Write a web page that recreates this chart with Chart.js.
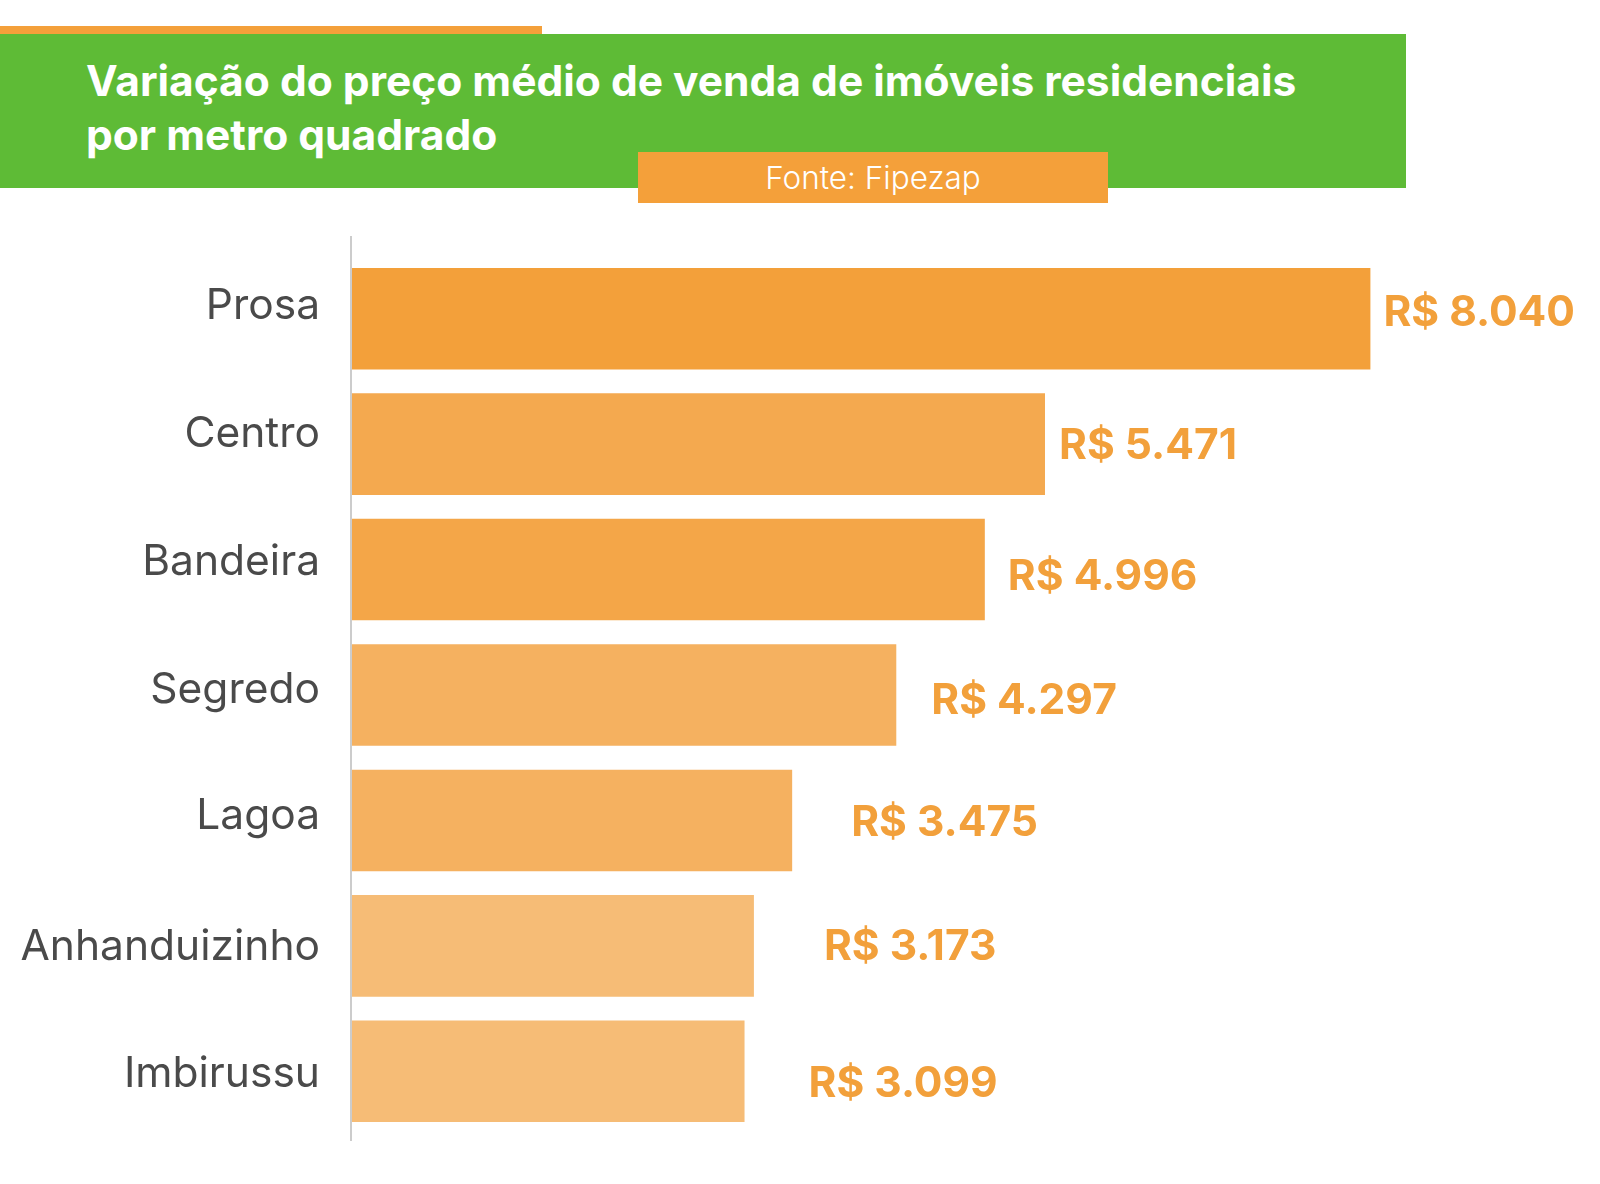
<!DOCTYPE html>
<html>
<head>
<meta charset="utf-8">
<script src="https://cdn.jsdelivr.net/npm/chart.js@4"></script>
<style>
  body { margin: 0; width: 1600px; height: 1184px; background: #fff; position: relative; overflow: hidden; font-family: Inter, sans-serif; }
  .strip { position: absolute; left: 0; top: 26px; width: 542px; height: 8px; background: #F4A03A; }
  .band { position: absolute; left: 0; top: 34px; width: 1406px; height: 154px; background: #5EBB36; }
  .title { position: absolute; left: 86px; top: 54px; color: #fff; font-weight: 700; font-size: 42.5px; line-height: 54px; }
  .fonte { position: absolute; left: 638px; top: 152px; width: 470px; height: 51px; background: #F4A03A; color: #fff; font-weight: 300; font-size: 31.5px; line-height: 51px; text-align: center; }
  #wrap { position: absolute; left: 0; top: 0; width: 1600px; height: 1184px; }
</style>
</head>
<body>
<div class="strip"></div>
<div class="band"></div>
<div class="title">Variação do preço médio de venda de imóveis residenciais<br>por metro quadrado</div>
<div class="fonte">Fonte: Fipezap</div>
<div id="wrap"><canvas id="chart-precos" width="1600" height="1184"></canvas></div>

<script>
// bairros e preço médio (R$/m²)
const bairros = ['Prosa', 'Centro', 'Bandeira', 'Segredo', 'Lagoa', 'Anhanduizinho', 'Imbirussu'];
const precos = [8040, 5471, 4996, 4297, 3475, 3173, 3099];
const cores = ['#F3A03A', '#F4A94F', '#F4A648', '#F5B160', '#F5B160', '#F6BC76', '#F6BC76'];

function formatReal(v) {
  return 'R$ ' + String(v).replace(/\B(?=(\d{3})+(?!\d))/g, '.');
}

// nomes dos bairros à esquerda e valores à direita das barras
var barLabels = {
  id: 'barLabels',
  afterDatasetsDraw: function(chart, args, opts) {
    var ctx = chart.ctx;
    var area = chart.chartArea;
    var bars = chart.getDatasetMeta(0).data;
    var names = chart.data.labels;
    ctx.save();
    ctx.textBaseline = 'middle';
    bars.forEach(function(bar, i) {
      ctx.font = '42.5px Inter';
      ctx.fillStyle = '#4a4a4a';
      ctx.textAlign = 'right';
      ctx.fillText(names[i], area.left - 32, bar.y + opts.nameShift[i]);

      ctx.font = 'bold 42.5px Inter';
      ctx.fillStyle = '#F2A03B';
      ctx.textAlign = 'left';
      ctx.fillText(formatReal(precos[i]), bar.x + opts.gap[i], bar.y + opts.shift[i]);
    });
    ctx.restore();
  }
};

var axisLine = {
  id: 'axisLine',
  beforeDatasetsDraw: function(chart) {
    var ctx = chart.ctx, area = chart.chartArea;
    ctx.save();
    ctx.strokeStyle = '#cccccc';
    ctx.lineWidth = 2;
    ctx.beginPath();
    ctx.moveTo(area.left - 1, area.top - 20);
    ctx.lineTo(area.left - 1, area.bottom + 7);
    ctx.stroke();
    ctx.restore();
  }
};

var ctp = document.getElementById('chart-precos');
var chartPrecos = new Chart(ctp, {
  type: 'bar',
  data: {
    labels: bairros,
    datasets: [{
      data: precos,
      backgroundColor: cores,
      borderWidth: 0,
      categoryPercentage: 1,
      barPercentage: 0.81
    }]
  },
  options: {
    indexAxis: 'y',
    responsive: false,
    animation: false,
    layout: {
      padding: { left: 0, right: 108, top: 256, bottom: 50 }
    },
    plugins: {
      legend: { display: false },
      tooltip: { enabled: false },
      barLabels: {
        nameShift: [-12, -10, -7, -5, -4, 1, 3],
        gap: [13, 14, 23, 35, 59, 70, 64],
        shift: [-5, 2, 8, 6, 3, 1, 13]
      }
    },
    scales: {
      x: {
        display: false,
        min: 0,
        max: 9000
      },
      y: {
        grid: { display: false, drawTicks: false },
        border: { display: false },
        ticks: { display: false },
        afterFit: function(scale) { scale.width = 352; }
      }
    }
  },
  plugins: [axisLine, barLabels]
});
</script>
</body>
</html>
